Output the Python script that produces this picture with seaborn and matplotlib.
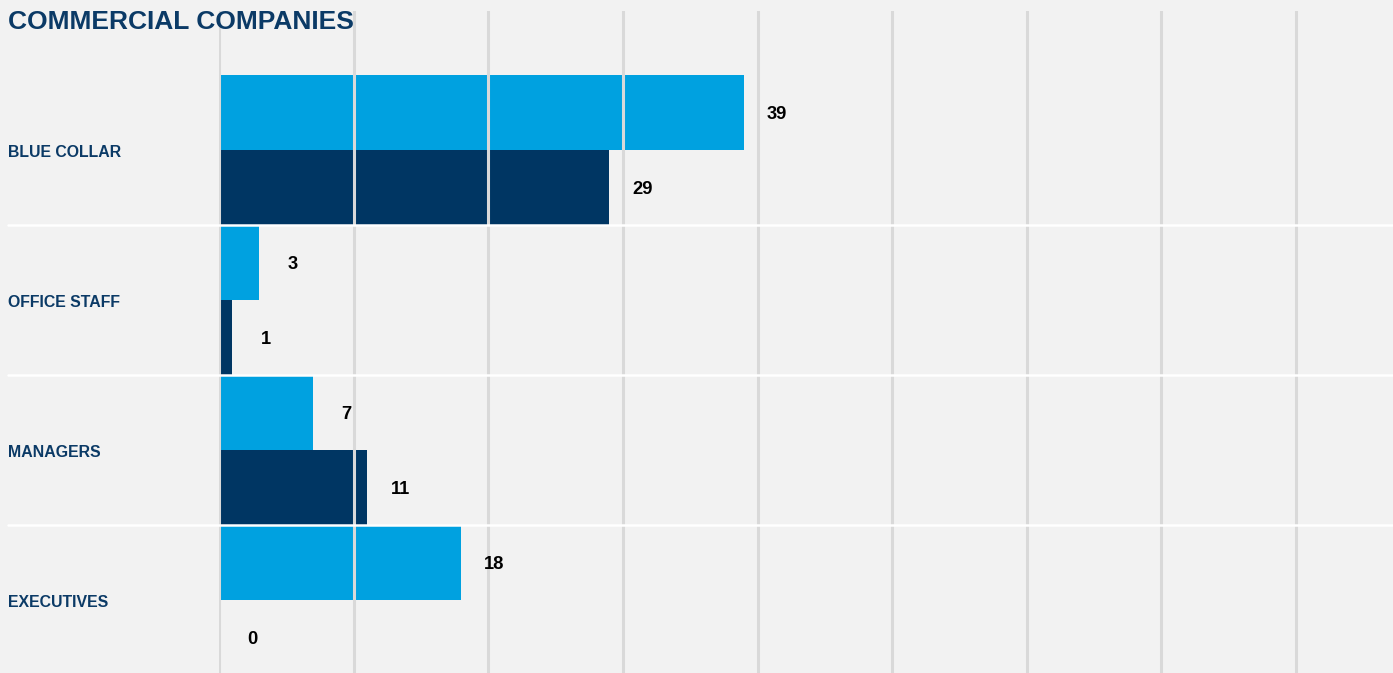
import matplotlib
matplotlib.use("Agg")
import matplotlib.pyplot as plt
import matplotlib.transforms as mtransforms
import seaborn as sns
import pandas as pd

# Data
categories = ["BLUE COLLAR", "OFFICE STAFF", "MANAGERS", "EXECUTIVES"]
series_names = ["Group 1", "Group 2"]
values_group1 = [39, 3, 7, 18]
values_group2 = [29, 1, 11, 0]
title = "COMMERCIAL COMPANIES"

colors = ["#00A1E0", "#003663"]
navy = "#0B3A66"
bg = "#F2F2F2"

df = pd.DataFrame({
    "category": categories * 2,
    "series": [series_names[0]] * len(categories) + [series_names[1]] * len(categories),
    "value": values_group1 + values_group2,
})

sns.set_theme(style="white")
plt.rcParams["font.family"] = ["Liberation Sans", "DejaVu Sans"]

W, H = 1393, 673
fig = plt.figure(figsize=(W / 100, H / 100), dpi=100, facecolor=bg)
ax = fig.add_axes([219 / W, 0, 1 - 219 / W, 1 - 11 / H])
ax.set_facecolor(bg)

sns.barplot(
    data=df, y="category", x="value", hue="series", order=categories,
    hue_order=series_names, palette=colors, orient="h", width=1.0,
    dodge=True, legend=False, saturation=1, ax=ax, linewidth=0,
)

ax.set_xlim(0, 87.2)
ax.set_ylim(3.49, -0.925)
ax.set_xticks(range(0, 90, 10))
ax.set_yticks([])
ax.tick_params(length=0, labelbottom=False)
ax.set_xlabel("")
ax.set_ylabel("")
for s in ax.spines.values():
    s.set_visible(False)

# Vertical grid drawn over the bars
ax.set_axisbelow(False)
ax.grid(axis="x", color="#D9D9D9", linewidth=2.2)
ax.grid(axis="y", visible=False)

# White separators between category bands, running into the label area
trans = mtransforms.blended_transform_factory(ax.transAxes, ax.transData)
x0 = (8 - 219) / (W - 219)
for yb in [0.5, 1.5, 2.5]:
    ax.plot([x0, 1], [yb, yb], transform=trans, color="white",
            linewidth=1.8, clip_on=False, zorder=5)

# Category labels, left aligned
down = mtransforms.ScaledTranslation(0, -2.5 / 100, fig.dpi_scale_trans)
for i, cat in enumerate(categories):
    ax.text(x0, i, cat, transform=trans + down, ha="left", va="center",
            fontsize=11.4, fontweight="bold", color=navy)

# Value labels beside each bar
offset = mtransforms.ScaledTranslation(33 / 100, -2.5 / 100, fig.dpi_scale_trans)
for container, vals in zip(ax.containers, [values_group1, values_group2]):
    for bar, v in zip(container, vals):
        y = bar.get_y() + bar.get_height() / 2
        ax.text(v, y, f"{v}", transform=ax.transData + offset,
                ha="center", va="center", fontsize=13.2,
                fontweight="bold", color="black")

fig.text(8 / W, 1 - 29 / H, title, ha="left", va="baseline",
         fontsize=19, fontweight="bold", color=navy)

fig.savefig("out.png", dpi=100, facecolor=bg)
